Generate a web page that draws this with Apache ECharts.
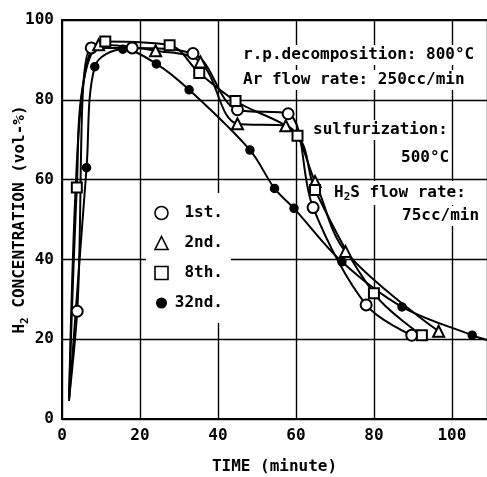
<!DOCTYPE html>
<html>
<head>
<meta charset="utf-8">
<script src="https://cdn.jsdelivr.net/npm/echarts@6/dist/echarts.min.js"></script>
<style>
  html, body { margin: 0; padding: 0; background: #fff; }
  #main { width: 487px; height: 477px; }
</style>
</head>
<body>
<div id="main"></div>
<script>
var FONT = 'DejaVu Sans Mono';

// [time (minute), H2 concentration (vol-%)] ; 'none' = curve point without marker
var run1st = [[1.8, 5, 'none'], [3.9, 27], [7.5, 93], [18, 93], [33.6, 91.6], [45, 77.5], [58, 76.5], [64.4, 53], [78, 28.6], [89.7, 21]];
var run2nd = [[1.8, 5, 'none'], [3.6, 60, 'none'], [5.8, 86, 'none'], [9.4, 93.8], [24, 92.3], [35.5, 89.5], [45, 74], [57.4, 73.5], [64.9, 59.5], [72.7, 42], [96.6, 22]];
var run8th = [[1.8, 5, 'none'], [3.8, 58], [5.6, 85, 'none'], [11.1, 94.6], [27.6, 93.7], [35.2, 86.7], [44.5, 79.7], [60.4, 71], [64.9, 57.4], [80, 31.5], [92.3, 21]];
var run32nd = [[1.8, 4.5, 'none'], [6.3, 63], [8.4, 88.3], [15.6, 92.7], [24.2, 89], [32.6, 82.5], [48.2, 67.4], [54.5, 57.8], [59.5, 52.8], [71.8, 39.4], [87.2, 28.1], [105.2, 21], [109, 19.8, 'none']];

var runNames = ['1st.', '2nd.', '8th.', '32nd.'];
var xTicks = [0, 20, 40, 60, 80, 100];

var chart = echarts.init(document.getElementById('main'));

function toData(arr) {
  return arr.map(function (p) {
    var d = { value: [p[0], p[1]] };
    if (p[2] === 'none') d.symbol = 'none';
    return d;
  });
}

function lineSeries(name, arr, symbol, size) {
  return {
    name: name,
    type: 'line',
    smooth: 0.35,
    data: toData(arr),
    symbol: symbol,
    symbolSize: size,
    showAllSymbol: true,
    lineStyle: { color: '#000', width: 2 },
    itemStyle: { color: '#000', borderColor: '#000', borderWidth: 1.5 },
    emphasis: { disabled: true },
    animation: false
  };
}

var emptyStyle = { color: '#fff', borderColor: '#000', borderWidth: 1.6 };

var option = {
  backgroundColor: '#fff',
  grid: { left: 62, right: 0, top: 20, bottom: 58, outerBoundsMode: 'none', containLabel: false },
  legend: {
    orient: 'vertical',
    left: 146,
    top: 193,
    padding: [12, 8, 12, 8],
    backgroundColor: '#fff',
    itemWidth: 13,
    itemHeight: 13,
    itemGap: 14,
    selectedMode: false,
    data: [
      { name: runNames[0], icon: 'circle', itemStyle: emptyStyle },
      { name: runNames[1], icon: 'triangle', itemStyle: emptyStyle },
      { name: runNames[2], icon: 'rect', itemStyle: emptyStyle },
      { name: runNames[3], icon: 'circle', itemStyle: { color: '#000', borderColor: '#fff', borderWidth: 2 } }
    ],
    formatter: function (n) { return '{r|' + n + '}'; },
    textStyle: {
      rich: { r: { width: 50, align: 'right', fontFamily: FONT, fontSize: 16, fontWeight: 'bold', color: '#000', lineHeight: 20 } }
    }
  },
  xAxis: [{
    type: 'value',
    min: 0,
    max: 109,
    interval: 20,
    name: 'TIME (minute)',
    nameLocation: 'middle',
    nameGap: 40,
    nameMoveOverlap: false,
    nameTextStyle: { fontFamily: FONT, fontSize: 16, fontWeight: 'bold', color: '#000' },
    axisLine: { show: true, lineStyle: { color: '#000', width: 2 } },
    axisTick: { show: false },
    splitLine: { show: true, lineStyle: { color: '#000', width: 1.4 } },
    axisLabel: {
      margin: 9,
      fontFamily: FONT, fontSize: 16, fontWeight: 'bold', color: '#000',
      formatter: function (v) { return xTicks.indexOf(v) >= 0 ? String(v) : ''; }
    }
  }, {
    type: 'value',
    position: 'top',
    min: 0,
    max: 109,
    axisLine: { show: true, lineStyle: { color: '#000', width: 2 } },
    axisTick: { show: false },
    axisLabel: { show: false },
    splitLine: { show: false }
  }],
  yAxis: {
    type: 'value',
    min: 0,
    max: 100,
    interval: 20,
    name: '{a|H}{s|2}{a| CONCENTRATION (vol-%)}',
    nameLocation: 'middle',
    nameGap: 31,
    nameMoveOverlap: false,
    nameRotate: 90,
    nameTextStyle: {
      rich: {
        a: { fontFamily: FONT, fontSize: 16, fontWeight: 'bold', color: '#000', lineHeight: 22 },
        s: { fontFamily: FONT, fontSize: 11, fontWeight: 'bold', color: '#000', lineHeight: 22, verticalAlign: 'bottom', padding: [6, 0, 0, 0] }
      }
    },
    axisLine: { show: true, lineStyle: { color: '#000', width: 2 } },
    axisTick: { show: false },
    splitLine: { show: true, lineStyle: { color: '#000', width: 1.4 } },
    axisLabel: { margin: 8, fontFamily: FONT, fontSize: 16, fontWeight: 'bold', color: '#000' }
  },
  graphic: [
    { type: 'text', left: 241, top: 45, z: 100, style: { text: 'r.p.decomposition: 800°C', font: 'bold 16px ' + FONT, fill: '#000', backgroundColor: '#fff', padding: [2, 2] } },
    { type: 'text', left: 241, top: 70, z: 100, style: { text: 'Ar flow rate: 250cc/min', font: 'bold 16px ' + FONT, fill: '#000', backgroundColor: '#fff', padding: [2, 2] } },
    { type: 'text', left: 311, top: 120, z: 100, style: { text: 'sulfurization:', font: 'bold 16px ' + FONT, fill: '#000', backgroundColor: '#fff', padding: [2, 2] } },
    { type: 'text', left: 399, top: 148, z: 100, style: { text: '500°C', font: 'bold 16px ' + FONT, fill: '#000', backgroundColor: '#fff', padding: [2, 2] } },
    { type: 'text', left: 332, top: 181, z: 100, style: {
        text: '{a|H}{s|2}{a|S flow rate:}',
        backgroundColor: '#fff', padding: [2, 2],
        rich: {
          a: { font: 'bold 16px ' + FONT, fill: '#000', lineHeight: 20 },
          s: { font: 'bold 11px ' + FONT, fill: '#000', lineHeight: 20, verticalAlign: 'bottom', padding: [6, 0, 0, 0] }
        }
      } },
    { type: 'text', left: 400, top: 206, z: 100, style: { text: '75cc/min', font: 'bold 16px ' + FONT, fill: '#000', backgroundColor: '#fff', padding: [2, 2] } }
  ],
  series: [
    lineSeries(runNames[3], run32nd, 'circle', 8),
    lineSeries(runNames[0], run1st, 'emptyCircle', 11),
    lineSeries(runNames[1], run2nd, 'emptyTriangle', 11),
    lineSeries(runNames[2], run8th, 'emptyRect', 10)
  ]
};

chart.setOption(option);
</script>
</body>
</html>
